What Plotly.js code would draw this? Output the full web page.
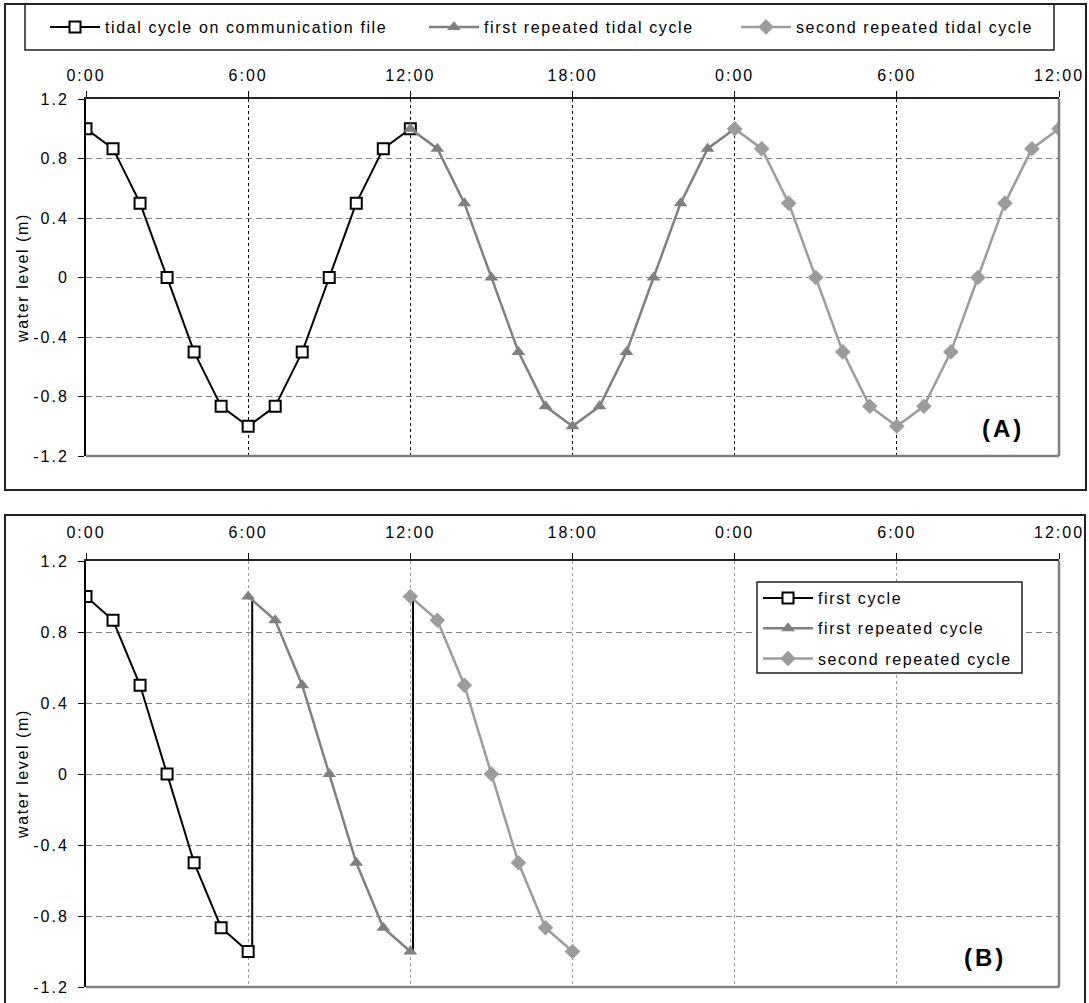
<!DOCTYPE html>
<html><head><meta charset="utf-8">
<script src="https://cdn.plot.ly/plotly-3.0.1.min.js"></script>
<style>html,body{margin:0;padding:0;background:#fff}#chart{width:1089px;height:1003px}</style>
</head><body><div id="chart"></div>
<script>
// ---------- data ----------
const hoursA1 = [0,1,2,3,4,5,6,7,8,9,10,11,12];
const hoursA2 = [12,13,14,15,16,17,18,19,20,21,22,23,24];
const hoursA3 = [24,25,26,27,28,29,30,31,32,33,34,35,36];
const levelCycle = [1,0.866,0.5,0,-0.5,-0.866,-1,-0.866,-0.5,0,0.5,0.866,1];

const hoursB1 = [0,1,2,3,4,5,6];
const hoursB2 = [6,7,8,9,10,11,12];
const hoursB3 = [12,13,14,15,16,17,18];
const levelHalf = [1,0.866,0.5,0,-0.5,-0.866,-1];

const jumpHours = [6.15, 12.1];
const jumpTop = 1, jumpBottom = -1;

const tickHours = [0,6,12,18,24,30,36];
const tickLabels = ['0:00','6:00','12:00','18:00','0:00','6:00','12:00'];
const levelTicks = [1.2,0.8,0.4,0,-0.4,-0.8,-1.2];
const levelTickLabels = ['1.2','0.8','0.4','0','-0.4','-0.8','-1.2'];

const namesA = ['tidal cycle on communication file','first repeated tidal cycle','second repeated tidal cycle'];
const namesB = ['first cycle','first repeated cycle','second repeated cycle'];
const yTitle = 'water level (m)';
const panelLabels = ['(A)','(B)'];

// ---------- helpers ----------
const W = 1089, H = 1003;
const fx = p => p / W;
const fy = p => 1 - p / H;
const FONT = '"Liberation Sans",Arial,sans-serif';
const sp = (t, ls) => '<span style="letter-spacing:' + ls + 'px">' + t + '</span>';

const C_BLACK = '#000000', C_TRI = '#808080', C_DIA = '#9c9c9c';
const mkSq  = {symbol:'square', size:11, color:'#ffffff', line:{color:C_BLACK, width:2}};
const mkTri = {symbol:'triangle-up', size:12, color:C_TRI, line:{width:0}};
const mkDia = {symbol:'diamond', size:12, color:C_DIA, line:{width:0}};
const LS = 1.6;

const traces = [
  {x:hoursA1, y:levelCycle, xaxis:'x', yaxis:'y', mode:'lines+markers', name:sp(namesA[0],LS),
   line:{color:C_BLACK,width:2}, marker:mkSq, legend:'legend'},
  {x:hoursA2, y:levelCycle, xaxis:'x', yaxis:'y', mode:'lines+markers', name:sp(namesA[1],LS),
   line:{color:C_TRI,width:2.5}, marker:mkTri, legend:'legend2'},
  {x:hoursA3, y:levelCycle, xaxis:'x', yaxis:'y', mode:'lines+markers', name:sp(namesA[2],LS),
   line:{color:C_DIA,width:2.5}, marker:mkDia, legend:'legend3'},
  {x:[jumpHours[0],jumpHours[0],null,jumpHours[1],jumpHours[1]],
   y:[jumpTop,jumpBottom,null,jumpTop,jumpBottom], xaxis:'x2', yaxis:'y2', mode:'lines',
   line:{color:C_BLACK,width:2}, showlegend:false, hoverinfo:'skip'},
  {x:hoursB1, y:levelHalf, xaxis:'x2', yaxis:'y2', mode:'lines+markers', name:sp(namesB[0],LS),
   line:{color:C_BLACK,width:2}, marker:mkSq, legend:'legend4', legendgroup:'b1'},
  {x:hoursB2, y:levelHalf, xaxis:'x2', yaxis:'y2', mode:'lines+markers', name:sp(namesB[1],LS),
   line:{color:C_TRI,width:2.5}, marker:mkTri, legend:'legend4', legendgroup:'b2'},
  {x:hoursB3, y:levelHalf, xaxis:'x2', yaxis:'y2', mode:'lines+markers', name:sp(namesB[2],LS),
   line:{color:C_DIA,width:2.5}, marker:mkDia, legend:'legend4', legendgroup:'b3'}
];

const tickFont = {family:FONT, size:16, color:'#000'};
const xCommon = {
  range:[0,36], side:'top', tickmode:'array', tickvals:tickHours,
  ticktext:tickLabels.map(t=>sp(t,2)), ticks:'outside', ticklen:6, tickcolor:'#000', tickwidth:1,
  showline:true, linecolor:'#222', linewidth:2, zeroline:false, showgrid:true, gridwidth:1,
  tickfont:tickFont, fixedrange:true
};
const yCommon = {
  range:[-1.2,1.2], tickmode:'array', tickvals:levelTicks, ticktext:levelTickLabels.map(t=>sp(t,2)),
  ticks:'outside', ticklen:6, tickcolor:'#000', tickwidth:1, showline:true, linecolor:'#000', linewidth:2,
  zeroline:false, showgrid:true, gridwidth:1, gridcolor:'#808080', griddash:'6px,4px',
  tickfont:tickFont, ticklabelstandoff:6, fixedrange:true
};

const legBase = {orientation:'h', bgcolor:'rgba(0,0,0,0)', borderwidth:0, xanchor:'left', yanchor:'middle',
  itemwidth:50, font:{family:FONT, size:16, color:'#000'}, y:fy(27)};

const layout = {
  width:W, height:H, margin:{l:0,r:0,t:0,b:0}, paper_bgcolor:'#fff', plot_bgcolor:'#fff',
  showlegend:true,
  xaxis: Object.assign({}, xCommon, {domain:[fx(86),fx(1059)], anchor:'y', gridcolor:'#000', griddash:'3px,3px', ticklabelstandoff:4}),
  yaxis: Object.assign({}, yCommon, {domain:[fy(456),fy(99)], anchor:'x'}),
  xaxis2: Object.assign({}, xCommon, {domain:[fx(86),fx(1059)], anchor:'y2', gridcolor:'#9a9a9a', griddash:'3px,3px', ticklabelstandoff:9}),
  yaxis2: Object.assign({}, yCommon, {domain:[fy(987),fy(561)], anchor:'x2'}),
  legend: Object.assign({}, legBase, {x:fx(45)}),
  legend2: Object.assign({}, legBase, {x:fx(424)}),
  legend3: Object.assign({}, legBase, {x:fx(736)}),
  legend4: {orientation:'v', bgcolor:'rgba(0,0,0,0)', borderwidth:0, xanchor:'left', yanchor:'top',
    x:fx(758), y:fy(581), itemwidth:50, tracegroupgap:6.5, traceorder:'grouped', font:{family:FONT, size:16, color:'#000'}},
  shapes: [
    {type:'rect', xref:'paper', yref:'paper', x0:fx(5), x1:fx(1086), y0:fy(4), y1:fy(490), line:{color:'#222',width:2}},
    {type:'rect', xref:'paper', yref:'paper', x0:fx(5), x1:fx(1085), y0:fy(515), y1:fy(1012), line:{color:'#222',width:2}},
    {type:'rect', xref:'paper', yref:'paper', x0:fx(25), x1:fx(1054), y0:fy(4), y1:fy(50), line:{color:'#222',width:1.5}},
    {type:'line', xref:'x domain', yref:'y domain', x0:0, x1:1, y0:0, y1:0, line:{color:'#808080',width:2.5}},
    {type:'line', xref:'x domain', yref:'y domain', x0:1, x1:1, y0:0, y1:1, line:{color:'#808080',width:2.5}},
    {type:'line', xref:'x2 domain', yref:'y2 domain', x0:0, x1:1, y0:0, y1:0, line:{color:'#808080',width:2.5}},
    {type:'line', xref:'x2 domain', yref:'y2 domain', x0:1, x1:1, y0:0, y1:1, line:{color:'#808080',width:2.5}},
    {type:'rect', xref:'paper', yref:'paper', x0:fx(757), x1:fx(1022), y0:fy(582), y1:fy(673), fillcolor:'#fff', line:{color:'#222',width:1.5}, layer:'above'}
  ],
  annotations: [
    {xref:'paper', yref:'paper', x:fx(22), y:fy(278), text:sp(yTitle,LS), textangle:-90, showarrow:false,
     xanchor:'center', yanchor:'middle', font:{family:FONT, size:16, color:'#000'}},
    {xref:'paper', yref:'paper', x:fx(22), y:fy(774), text:sp(yTitle,LS), textangle:-90, showarrow:false,
     xanchor:'center', yanchor:'middle', font:{family:FONT, size:16, color:'#000'}},
    {xref:'paper', yref:'paper', x:fx(1003), y:fy(428), text:sp('<b>'+panelLabels[0]+'</b>',3), showarrow:false,
     xanchor:'center', yanchor:'middle', font:{family:FONT, size:24, color:'#000'}},
    {xref:'paper', yref:'paper', x:fx(985), y:fy(957), text:sp('<b>'+panelLabels[1]+'</b>',3), showarrow:false,
     xanchor:'center', yanchor:'middle', font:{family:FONT, size:24, color:'#000'}}
  ]
};

Plotly.newPlot('chart', traces, layout, {staticPlot:true, displayModeBar:false});
</script>
</body></html>
